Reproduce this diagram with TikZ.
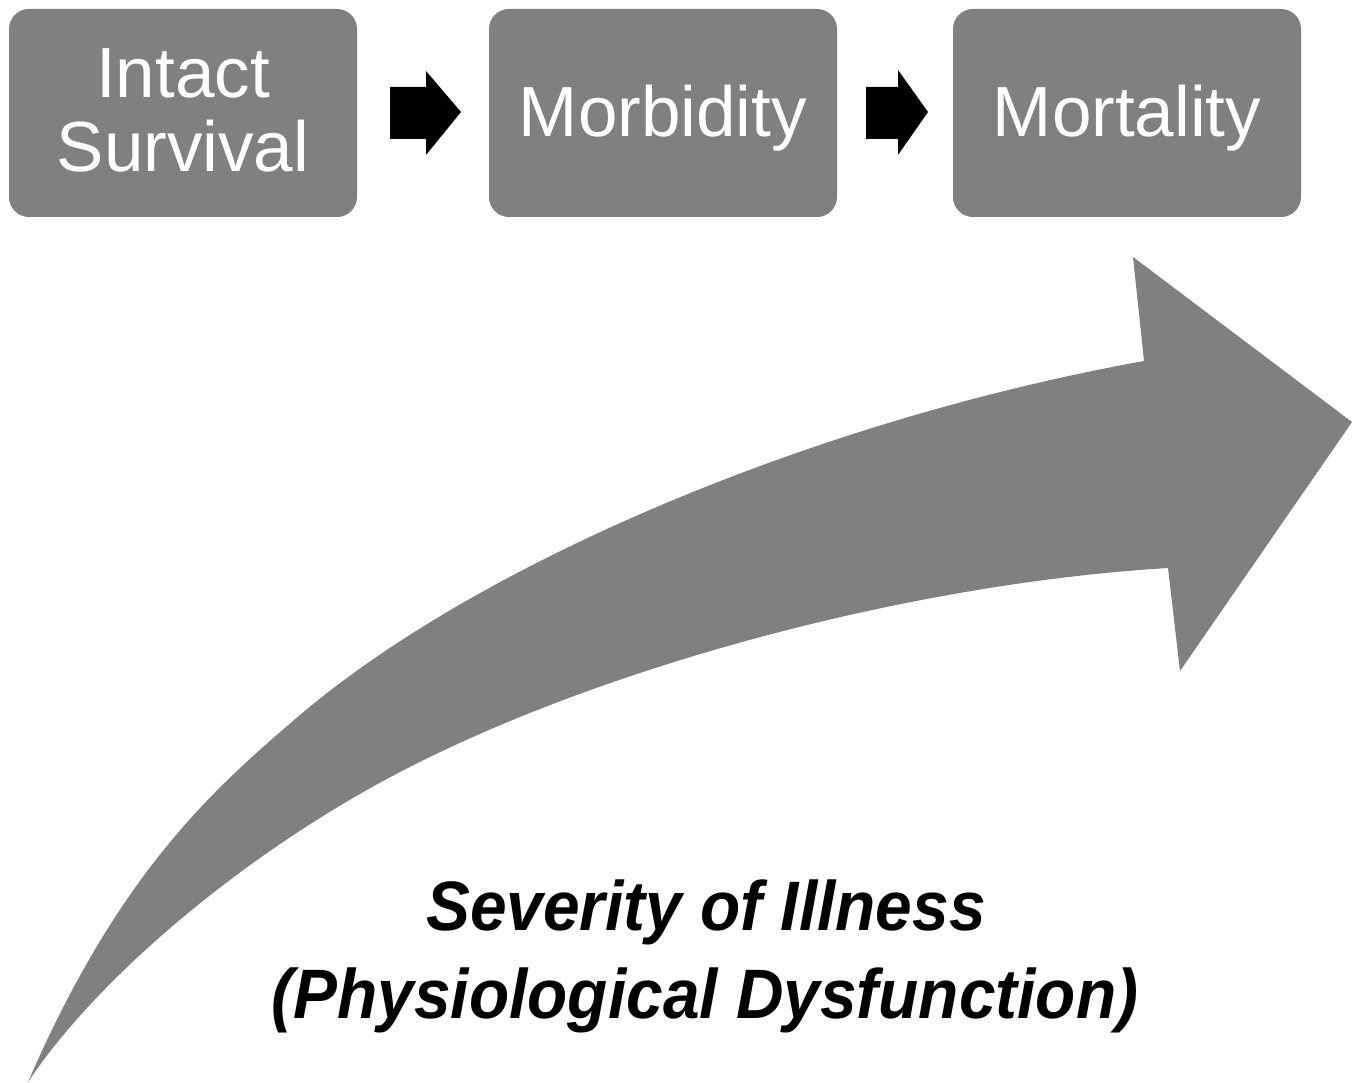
\documentclass[tikz,border=0pt]{standalone}
\usepackage{fontspec}
\setmainfont{Liberation Sans}
\definecolor{fillgray}{RGB}{128,128,128}
\begin{document}
\begin{tikzpicture}[x=1pt,y=-1pt,
  stage/.style={fill=fillgray, rounded corners=20pt, minimum width=348pt, minimum height=208pt, inner sep=0pt, draw=none},
  stagetext/.style={text=white, anchor=base, inner sep=0pt, font=\fontsize{71}{74}\selectfont},
  flowarrow/.style={fill=black},
  bigarrow/.style={fill=fillgray},
  captiontext/.style={anchor=base, inner sep=0pt, font=\fontsize{70}{80}\selectfont\bfseries\itshape}]
\useasboundingbox (0,0) rectangle (1357,1083);
% stage boxes
\node[stage] (b1) at (183,113) {};
\node[stage] (b2) at (663,113) {};
\node[stage] (b3) at (1127,113) {};
\node[stagetext] (t1a) at (183,98) {Intact};
\node[stagetext] (t1b) at (183,172) {Survival};
\node[stagetext] (t2) at (663,137) {Morbidity};
\node[stagetext] (t3) at (1127,137) {Mortality};
% small block arrows
\fill[flowarrow] (390,87) -- (426,87) -- (426,71) -- (461,112) -- (426,155) -- (426,139) -- (390,139) -- cycle;
\fill[flowarrow] (866,87) -- (898,87) -- (898,70) -- (928,112) -- (898,155) -- (898,139) -- (866,139) -- cycle;
% big curved arrow
\fill[bigarrow] (28,1082)
  .. controls (118,875) and (210,791.5) .. (300,715)
  .. controls (481,561.2) and (818.6,419.6) .. (1144,361)
  -- (1133,257) -- (1352,422) -- (1180,671) -- (1168,568)
  .. controls (913,583.4) and (605.8,665) .. (400,772)
  .. controls (248.2,851.1) and (99.4,974.9) .. (28,1082) -- cycle;
% caption
\node[captiontext] (c1) at (706,930) {\scalebox{0.94}[1]{Severity of Illness}};
\node[captiontext] (c2) at (705,1018) {\scalebox{0.94}[1]{(Physiological Dysfunction)}};
\end{tikzpicture}
\end{document}
